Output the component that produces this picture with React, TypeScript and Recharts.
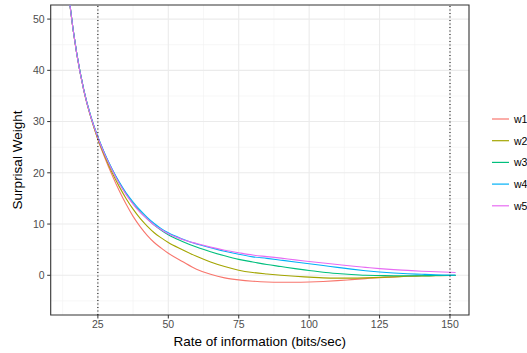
import React from 'react';
import { LineChart, Line, XAxis, YAxis, CartesianGrid, ReferenceLine, ReferenceArea, Label } from 'recharts';

// rate of information (bits/sec)
const rates = [14, 15, 17.5, 20, 22.5, 25, 27.5, 30, 32.5, 35, 37.5, 40, 42.5, 45, 47.5, 50, 55, 60, 65, 70, 75, 80, 85, 90, 95, 100, 105, 110, 115, 120, 125, 130, 135, 140, 145, 150, 152];

const w1 = [58.3, 53.1, 43.2, 36.1, 30.8, 26.5, 22.9, 19.6, 16.6, 13.9, 11.5, 9.5, 7.8, 6.4, 5.3, 4.3, 2.7, 1.2, 0.2, -0.5, -0.9, -1.15, -1.3, -1.35, -1.35, -1.3, -1.2, -1.05, -0.85, -0.65, -0.45, -0.3, -0.2, -0.1, -0.05, 0.0, 0.0];
const w2 = [58.3, 53.1, 43.2, 36.1, 30.8, 26.6, 23.2, 20.1, 17.4, 15.0, 12.9, 11.1, 9.6, 8.3, 7.3, 6.4, 5.0, 3.7, 2.6, 1.7, 1.0, 0.55, 0.25, 0.0, -0.2, -0.35, -0.5, -0.55, -0.55, -0.5, -0.4, -0.3, -0.2, -0.15, -0.1, -0.05, -0.05];
const w3 = [58.4, 53.2, 43.3, 36.2, 31.0, 27.0, 23.6, 20.7, 18.1, 15.9, 14.0, 12.4, 11.0, 9.8, 8.8, 7.9, 6.6, 5.5, 4.6, 3.8, 3.1, 2.6, 2.1, 1.7, 1.3, 0.95, 0.6, 0.35, 0.15, 0.0, -0.05, -0.1, -0.1, -0.1, -0.05, -0.05, -0.05];
const w4 = [58.4, 53.2, 43.3, 36.2, 31.0, 27.0, 23.7, 20.8, 18.3, 16.1, 14.3, 12.7, 11.3, 10.1, 9.1, 8.3, 7.1, 6.1, 5.4, 4.7, 4.1, 3.6, 3.3, 2.95, 2.6, 2.25, 1.9, 1.55, 1.2, 0.9, 0.65, 0.45, 0.3, 0.2, 0.1, 0.05, 0.05];
const w5 = [58.3, 53.1, 43.2, 36.1, 30.9, 26.9, 23.5, 20.6, 18.0, 15.8, 13.9, 12.3, 11.0, 9.8, 8.9, 8.1, 7.0, 6.2, 5.5, 4.9, 4.4, 3.95, 3.65, 3.35, 3.0, 2.7, 2.4, 2.1, 1.8, 1.55, 1.3, 1.1, 0.95, 0.8, 0.7, 0.6, 0.55];

const seriesNames = ['w1', 'w2', 'w3', 'w4', 'w5'];
const seriesValues = [w1, w2, w3, w4, w5];
const seriesColors = ['#F8766D', '#A3A500', '#00BF7D', '#00B0F6', '#E76BF3'];

const xTicks = [25, 50, 75, 100, 125, 150];
const yTicks = [0, 10, 20, 30, 40, 50];
const xMinor = [12.5, 37.5, 62.5, 87.5, 112.5, 137.5];
const yMinor = [-5, 5, 15, 25, 35, 45];
const markers = [25, 150];

const data = rates.map((x, i) => {
  const row: Record<string, number> = { x };
  seriesNames.forEach((n, j) => { row[n] = seriesValues[j][i]; });
  return row;
});

const font = 'Liberation Sans, Arial, sans-serif';
const tickStyle = { fill: '#4D4D4D', fontSize: 10.5, fontFamily: font };

// legend drawn beside the chart, ggplot style
const LegendBox = () => (
  <svg width={40} height={110} style={{ position: 'absolute', left: 490, top: 110 }}>
    {seriesNames.map((n, i) => (
      <g key={n}>
        <line x1={2} x2={19} y1={9 + i * 21.7} y2={9 + i * 21.7} stroke={seriesColors[i]} strokeWidth={1.2} />
        <text x={24} y={12.8 + i * 21.7} fontSize={10.5} fontFamily={font} fill="#000">{n}</text>
      </g>
    ))}
  </svg>
);

export default function App() {
  return (
    <div style={{ position: 'absolute', left: 0, top: 0, width: 527, height: 353, background: '#fff' }}>
      <LineChart width={527} height={353} data={data} margin={{ top: 5, right: 58, bottom: 0, left: 0 }}>
        <CartesianGrid horizontalValues={yMinor} verticalValues={xMinor} stroke="#F2F2F2" strokeWidth={0.6} />
        <CartesianGrid horizontalValues={yTicks} verticalValues={xTicks} stroke="#EBEBEB" strokeWidth={1.1} />
        <XAxis
          dataKey="x"
          type="number"
          domain={[8.25, 156.75]}
          ticks={xTicks}
          allowDataOverflow
          height={38}
          axisLine={false}
          tickLine={{ stroke: '#333333' }}
          tickSize={3.5}
          tickMargin={2.5}
          tick={tickStyle}
        >
          <Label
            content={() => (
              <text x={259.7} y={346} textAnchor="middle" fontSize={13.5} fontFamily={font} fill="#000">
                Rate of information (bits/sec)
              </text>
            )}
          />
        </XAxis>
        <YAxis
          type="number"
          domain={[-7.75, 52.75]}
          ticks={yTicks}
          allowDataOverflow
          width={50.7}
          axisLine={false}
          tickLine={{ stroke: '#333333' }}
          tickSize={3.5}
          tickMargin={2.5}
          tick={tickStyle}
        >
          <Label
            content={() => (
              <text x={21.5} y={160} transform="rotate(-90 21.5 160)" textAnchor="middle" fontSize={13.5} fontFamily={font} fill="#000">
                Surprisal Weight
              </text>
            )}
          />
        </YAxis>
        {seriesNames.map((n, i) => (
          <Line
            key={n}
            dataKey={n}
            type="monotone"
            stroke={seriesColors[i]}
            strokeWidth={1.1}
            dot={false}
            isAnimationActive={false}
          />
        ))}
        {markers.map((m) => (
          <ReferenceLine key={m} x={m} stroke="#000" strokeWidth={1} strokeDasharray="1 2.5" />
        ))}
        <ReferenceArea x1={8.25} x2={156.75} y1={-7.75} y2={52.75} fill="none" stroke="#333333" strokeWidth={1.1} />
      </LineChart>
      <LegendBox />
    </div>
  );
}
